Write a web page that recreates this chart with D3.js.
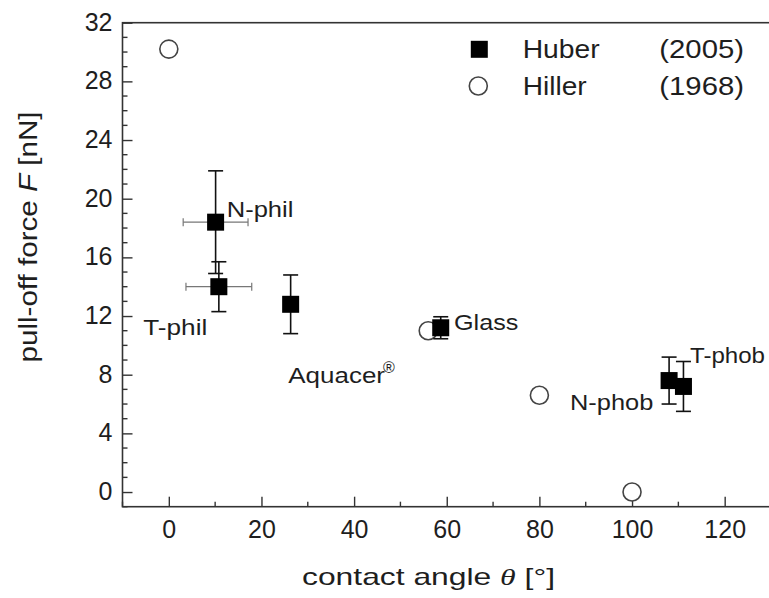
<!DOCTYPE html>
<html>
<head>
<meta charset="utf-8">
<script src="https://cdn.jsdelivr.net/npm/d3@7"></script>
<style>
  html, body { margin: 0; padding: 0; background: #fff; }
  svg { display: block; font-family: "Liberation Sans", Arial, sans-serif; }
</style>
</head>
<body>
<svg id="chart" width="769" height="598"></svg>
<script>
// ---- data ----
const huberNames = ["N-phil", "T-phil", "Aquacer", "Glass", "N-phob", "T-phob"];
const huberAngle = [10.1, 10.8, 26.3, 58.7, 108.0, 111.1];
const huberForce = [18.4, 14.0, 12.8, 11.2, 7.6, 7.2];
const huberForceErr = [3.5, 1.7, 2.0, 0.75, 1.6, 1.7];
const huberAngleErr = [7.0, 7.1, 0, 0, 0, 0];

const hillerAngle = [0, 56, 80, 100];
const hillerForce = [30.2, 11.0, 6.6, 0.0];

const xTickValues = [0, 20, 40, 60, 80, 100, 120];
const yTickValues = [0, 4, 8, 12, 16, 20, 24, 28, 32];
const legendNames = ["Huber", "Hiller"];
const legendYears = ["(2005)", "(1968)"];

// ---- layout ----
const svg = d3.select("#chart");
const x = d3.scaleLinear().domain([-10, 130]).range([122.5, 771]);
const y = d3.scaleLinear().domain([-1, 32]).range([506.7, 22.7]);
const ink = "#1e1e1e";
const axisCol = "#333";

// frame
const g = svg.append("g");
g.append("rect")
  .attr("x", x(-10)).attr("y", y(32))
  .attr("width", x(130) - x(-10)).attr("height", y(-1) - y(32))
  .attr("fill", "none").attr("stroke", axisCol).attr("stroke-width", 1.6);

// x ticks (inward)
const xMinor = d3.range(-10, 131, 10).filter(v => v % 20 !== 0);
const xAxis = d3.axisBottom(x).tickValues(xTickValues).tickSize(-10).tickPadding(14).tickFormat(d3.format("d"));
const xg = g.append("g").attr("transform", `translate(0,${y(-1)})`).call(xAxis);
xg.select(".domain").remove();
xg.selectAll(".tick line").attr("stroke", axisCol).attr("stroke-width", 1.4);
xg.selectAll(".tick text").attr("font-size", 25).attr("fill", ink)
  .attr("font-family", "Liberation Sans, Arial, sans-serif").attr("dy", 0).attr("y", 31.6);
xg.selectAll(".minor").data(xMinor).enter().append("line")
  .attr("x1", d => x(d)).attr("x2", d => x(d)).attr("y1", 0).attr("y2", -5)
  .attr("stroke", axisCol).attr("stroke-width", 1.4);

// y ticks (inward)
const yMinor = d3.range(-1, 33, 1).filter(v => v % 4 !== 0);
const yAxis = d3.axisLeft(y).tickValues(yTickValues).tickSize(-10).tickPadding(10).tickFormat(d3.format("d"));
const yg = g.append("g").attr("transform", `translate(${x(-10)},0)`).call(yAxis);
yg.select(".domain").remove();
yg.selectAll(".tick line").attr("stroke", axisCol).attr("stroke-width", 1.4);
yg.selectAll(".tick text").attr("font-size", 25).attr("fill", ink)
  .attr("font-family", "Liberation Sans, Arial, sans-serif").attr("dy", "0.3em");
yg.selectAll(".minor").data(yMinor).enter().append("line")
  .attr("y1", d => y(d)).attr("y2", d => y(d)).attr("x1", 0).attr("x2", 5)
  .attr("stroke", axisCol).attr("stroke-width", 1.4);

// axis titles
const xt = svg.append("text").attr("x", 302).attr("y", 585)
  .attr("font-size", 24).attr("fill", ink)
  .attr("textLength", 253).attr("lengthAdjust", "spacingAndGlyphs");
xt.append("tspan").text("contact angle ");
xt.append("tspan").attr("font-style", "italic").attr("font-family", "Liberation Serif, serif").text("θ");
xt.append("tspan").text(" [°]");

const yt = svg.append("text").attr("transform", "translate(36.5,237) rotate(-90)")
  .attr("text-anchor", "middle").attr("font-size", 25).attr("fill", ink)
  .attr("textLength", 251).attr("lengthAdjust", "spacingAndGlyphs");
yt.append("tspan").text("pull-off force ");
yt.append("tspan").attr("font-style", "italic").text("F");
yt.append("tspan").text(" [nN]");

// ---- data marks ----
const huber = huberNames.map((n, i) => ({
  name: n, a: huberAngle[i], f: huberForce[i], fe: huberForceErr[i], ae: huberAngleErr[i]
}));
const hiller = hillerAngle.map((a, i) => ({ a, f: hillerForce[i] }));

// Hiller open circles
g.selectAll(".hiller").data(hiller).enter().append("circle")
  .attr("cx", d => x(d.a)).attr("cy", d => y(d.f)).attr("r", 9)
  .attr("fill", "#fff").attr("stroke", "#444").attr("stroke-width", 1.6);

// horizontal error bars (gray)
const hx = huber.filter(d => d.ae > 0);
const hxg = g.append("g").attr("stroke", "#777").attr("stroke-width", 1.2);
hx.forEach(d => {
  hxg.append("line").attr("x1", x(d.a - d.ae)).attr("x2", x(d.a + d.ae)).attr("y1", y(d.f)).attr("y2", y(d.f));
  [d.a - d.ae, d.a + d.ae].forEach(v => {
    hxg.append("line").attr("x1", x(v)).attr("x2", x(v)).attr("y1", y(d.f) - 4).attr("y2", y(d.f) + 4);
  });
});

// vertical error bars (black)
const vg = g.append("g").attr("stroke", "#111").attr("stroke-width", 1.6);
huber.forEach(d => {
  vg.append("line").attr("x1", x(d.a)).attr("x2", x(d.a)).attr("y1", y(d.f - d.fe)).attr("y2", y(d.f + d.fe));
  [d.f - d.fe, d.f + d.fe].forEach(v => {
    vg.append("line").attr("x1", x(d.a) - 7.5).attr("x2", x(d.a) + 7.5).attr("y1", y(v)).attr("y2", y(v));
  });
});

// Huber filled squares
const sq = 17;
g.selectAll(".huber").data(huber).enter().append("rect")
  .attr("x", d => x(d.a) - sq / 2).attr("y", d => y(d.f) - sq / 2)
  .attr("width", sq).attr("height", sq).attr("fill", "#000");

// point labels
const labels = [
  { t: "N-phil", x: 226.7, y: 216.7, w: 66.7 },
  { t: "T-phil", x: 143.3, y: 335, w: 64 },
  { t: "Aquacer", x: 288.3, y: 383.3, w: 96.7 },
  { t: "Glass", x: 454, y: 330, w: 64.3 },
  { t: "N-phob", x: 570, y: 410, w: 83.3 },
  { t: "T-phob", x: 690, y: 363.3, w: 75 }
];
labels.forEach(l => {
  svg.append("text").attr("x", l.x).attr("y", l.y).attr("font-size", 22).attr("fill", ink)
    .attr("textLength", l.w).attr("lengthAdjust", "spacingAndGlyphs").text(l.t);
});
svg.append("text").attr("x", 383).attr("y", 373).attr("font-size", 16).attr("fill", ink).text("®");

// legend
const legY = [49.3, 86];
svg.append("rect").attr("x", 479.3 - 8.5).attr("y", legY[0] - 8.5).attr("width", 17).attr("height", 17).attr("fill", "#000");
svg.append("circle").attr("cx", 478.3).attr("cy", legY[1]).attr("r", 9)
  .attr("fill", "#fff").attr("stroke", "#444").attr("stroke-width", 1.6);
const nameW = [77, 64];
legendNames.forEach((n, i) => {
  svg.append("text").attr("x", 522.7).attr("y", legY[i] + 9).attr("font-size", 26).attr("fill", ink)
    .attr("textLength", nameW[i]).attr("lengthAdjust", "spacingAndGlyphs").text(n);
  svg.append("text").attr("x", 659.3).attr("y", legY[i] + 9).attr("font-size", 26).attr("fill", ink)
    .attr("textLength", 84.7).attr("lengthAdjust", "spacingAndGlyphs").text(legendYears[i]);
});
</script>
</body>
</html>
